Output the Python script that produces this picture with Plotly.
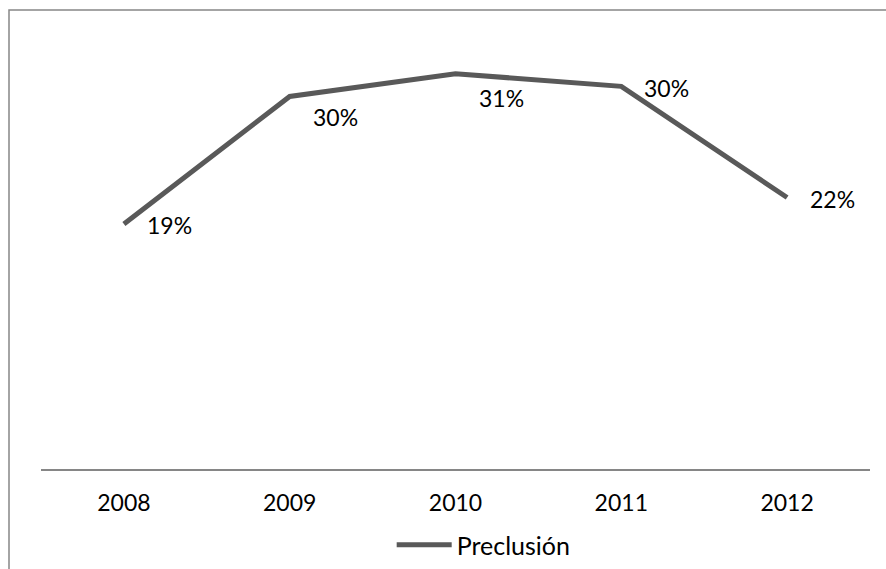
import plotly.graph_objects as go

years = ["2008", "2009", "2010", "2011", "2012"]
preclusion = [0.194, 0.295, 0.313, 0.303, 0.215]
labels = ["19%", "30%", "31%", "30%", "22%"]
series_name = "Preclusión"

# label placement (style only)
label_yshift = [-1, -21, -24, -2, -2]

FONT = "Lato, 'Open Sans', sans-serif"
LINE = "#595959"

fig = go.Figure()
fig.add_trace(go.Scatter(
    x=years, y=preclusion, mode="lines", name=series_name,
    line=dict(color=LINE, width=5),
    showlegend=True,
))

for i, (y, t, ys) in enumerate(zip(preclusion, labels, label_yshift)):
    fig.add_annotation(x=i, y=y, xref="x", yref="y", text=t, showarrow=False,
                       xanchor="left", yanchor="middle",
                       xshift=21, yshift=ys,
                       font=dict(family=FONT, size=23, color="#000000"))

# outer chart border
fig.add_shape(type="rect", xref="paper", yref="paper",
              x0=-32/829, x1=1.2, y0=-0.5, y1=1 + 17/442,
              line=dict(color="#878787", width=1.5), layer="below")

fig.update_layout(
    width=886, height=569,
    margin=dict(l=41, r=16, t=27, b=100, autoexpand=False),
    paper_bgcolor="white", plot_bgcolor="white",
    font=dict(family=FONT, size=23, color="#000000"),
    xaxis=dict(type="category", range=[-0.5, 4.5], showgrid=False,
               showline=True, linecolor="#868686", linewidth=1.5,
               ticks="", ticklabelstandoff=13, zeroline=False,
               tickfont=dict(family=FONT, size=23)),
    yaxis=dict(range=[0, 0.35], showticklabels=False, showline=False,
               ticks="", showgrid=False, zeroline=False),
    legend=dict(orientation="h", x=0.534, xanchor="center",
                yref="container", y=24/569, yanchor="middle",
                font=dict(family=FONT, size=25), itemwidth=55,
                bgcolor="rgba(0,0,0,0)"),
    showlegend=True,
)

fig.write_html("out.html")
